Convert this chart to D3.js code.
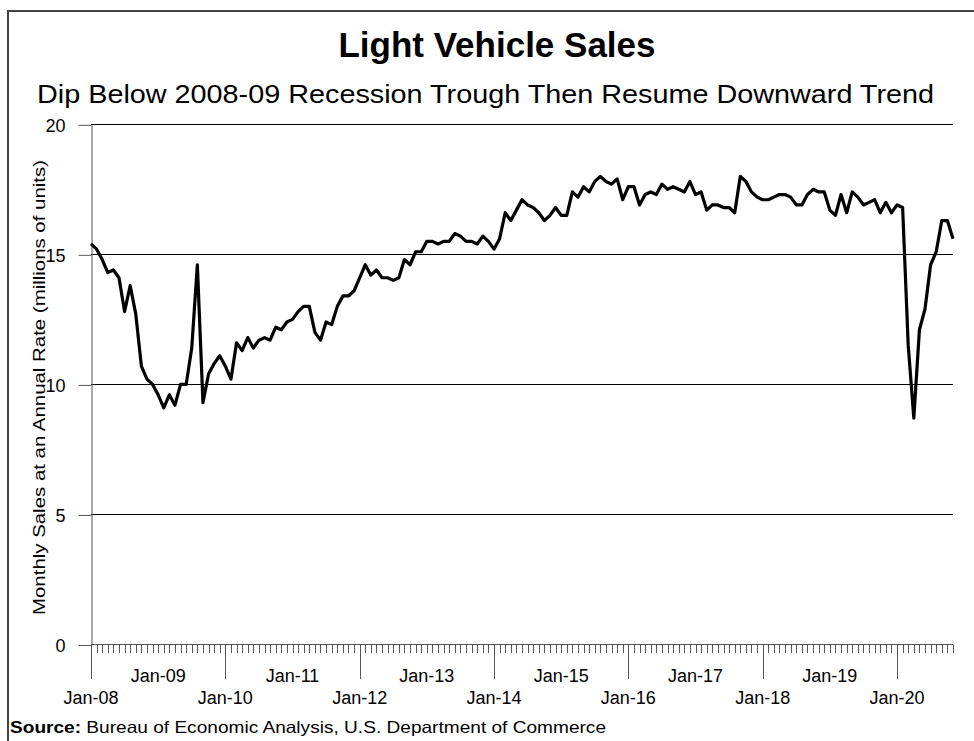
<!DOCTYPE html>
<html lang="en">
<head>
  <meta charset="UTF-8">
  <title>Light Vehicle Sales</title>
  <script src="https://d3js.org/d3.v7.min.js"></script>
  <style>
    body {
      margin: 0;
      background: #ffffff;
      font-family: "Liberation Sans", Arial, sans-serif;
    }

    svg {
      display: block;
    }

    .grid line {
      stroke: #000000;
      stroke-width: 1px;
    }

    .y.axis path,
    .y.axis line,
    .x.axis line {
      stroke: #555555;
      stroke-width: 1px;
    }

    .y.axis text,
    .x.axis text {
      font-size: 18px;
      fill: #000000;
    }

    path.sales {
      fill: none;
      stroke: #000000;
      stroke-width: 3.2px;
      stroke-linejoin: round;
    }
  </style>
</head>

<body>
  <div id="chart"></div>
  <script>
    // monthly light vehicle sales, SAAR millions, Jan-08 .. Nov-20
    const months = d3.timeMonth.range(new Date(2008, 0, 1), new Date(2020, 11, 1));

    const sales = [
      15.4, 15.2, 14.8, 14.3, 14.4, 14.1, 12.8, 13.8, 12.7, 10.7, 10.2, 10.0,  // 2008
      9.6, 9.1, 9.6, 9.2, 10.0, 10.0, 11.4, 14.6, 9.3, 10.4, 10.8, 11.1,       // 2009
      10.7, 10.2, 11.6, 11.3, 11.8, 11.4, 11.7, 11.8, 11.7, 12.2, 12.1, 12.4,  // 2010
      12.5, 12.8, 13.0, 13.0, 12.0, 11.7, 12.4, 12.3, 13.0, 13.4, 13.4, 13.6,  // 2011
      14.1, 14.6, 14.2, 14.4, 14.1, 14.1, 14.0, 14.1, 14.8, 14.6, 15.1, 15.1,  // 2012
      15.5, 15.5, 15.4, 15.5, 15.5, 15.8, 15.7, 15.5, 15.5, 15.4, 15.7, 15.5,  // 2013
      15.2, 15.6, 16.6, 16.3, 16.7, 17.1, 16.9, 16.8, 16.6, 16.3, 16.5, 16.8,  // 2014
      16.5, 16.5, 17.4, 17.2, 17.6, 17.4, 17.8, 18.0, 17.8, 17.7, 17.9, 17.1,  // 2015
      17.6, 17.6, 16.9, 17.3, 17.4, 17.3, 17.7, 17.5, 17.6, 17.5, 17.4, 17.8,  // 2016
      17.3, 17.4, 16.7, 16.9, 16.9, 16.8, 16.8, 16.6, 18.0, 17.8, 17.4, 17.2,  // 2017
      17.1, 17.1, 17.2, 17.3, 17.3, 17.2, 16.9, 16.9, 17.3, 17.5, 17.4, 17.4,  // 2018
      16.7, 16.5, 17.3, 16.6, 17.4, 17.2, 16.9, 17.0, 17.1, 16.6, 17.0, 16.6,  // 2019
      16.9, 16.8, 11.5, 8.7, 12.1, 12.9, 14.6, 15.1, 16.3, 16.3, 15.6          // 2020
    ];

    const yTicks = [0, 5, 10, 15, 20];
    const upperLabels = ["Jan-09", "Jan-11", "Jan-13", "Jan-15", "Jan-17", "Jan-19"];
    const lowerLabels = ["Jan-08", "Jan-10", "Jan-12", "Jan-14", "Jan-16", "Jan-18", "Jan-20"];

    const width = 974,
          height = 741;

    const fmt = d3.timeFormat("%b-%y");
    const keys = months.map(fmt);
    const data = keys.map((k, i) => ({ key: k, value: sales[i] }));

    const svg = d3.select("#chart")
      .append("svg")
      .attr("width", width)
      .attr("height", height);

    // frame
    svg.append("rect")
      .attr("x", 8)
      .attr("y", 11)
      .attr("width", 990)
      .attr("height", 760)
      .attr("fill", "none")
      .attr("stroke", "#444444")
      .attr("stroke-width", 2);

    let x = d3.scalePoint()
      .domain(keys)
      .range([91, 953]);

    let y = d3.scaleLinear()
      .domain([0, 20])
      .range([644.5, 124.3]);

    // gridlines
    svg.append("g")
      .attr("class", "grid")
      .selectAll("line")
      .data(yTicks.filter(d => d > 0))
      .enter().append("line")
      .attr("x1", 91)
      .attr("x2", 953)
      .attr("y1", d => Math.round(y(d)) + 0.5)
      .attr("y2", d => Math.round(y(d)) + 0.5);

    // y axis
    let yAxis = svg.append("g")
      .attr("class", "y axis")
      .attr("transform", "translate(91.5,0.5)")
      .call(d3.axisLeft(y).tickValues(yTicks).tickSize(13).tickSizeOuter(0).tickPadding(13));

    yAxis.selectAll("text")
      .attr("dy", "0.38em");

    yAxis.select(".domain").attr("stroke", "#555555");

    // x axis: monthly minor ticks, biennial major ticks
    let xAxis = svg.append("g")
      .attr("class", "x axis");

    xAxis.append("line")
      .attr("x1", 91)
      .attr("x2", 953)
      .attr("y1", 644.5)
      .attr("y2", 644.5);

    xAxis.selectAll("line.tick")
      .data(keys)
      .enter().append("line")
      .attr("class", "tick")
      .attr("x1", d => Math.round(x(d)) + 0.5)
      .attr("x2", d => Math.round(x(d)) + 0.5)
      .attr("y1", 644.5)
      .attr("y2", d => lowerLabels.includes(d) ? 679 : 653);

    xAxis.selectAll("text.upper")
      .data(upperLabels)
      .enter().append("text")
      .attr("class", "upper")
      .attr("x", d => x(d))
      .attr("y", 681.5)
      .attr("text-anchor", "middle")
      .text(d => d);

    xAxis.selectAll("text.lower")
      .data(lowerLabels)
      .enter().append("text")
      .attr("class", "lower")
      .attr("x", d => x(d))
      .attr("y", 704)
      .attr("text-anchor", "middle")
      .text(d => d);

    // series
    let line = d3.line()
      .x(d => x(d.key))
      .y(d => y(d.value));

    svg.append("path")
      .datum(data)
      .attr("class", "sales")
      .attr("d", line);

    // titles
    svg.append("text")
      .attr("x", 497)
      .attr("y", 57)
      .attr("text-anchor", "middle")
      .style("font-size", "35px")
      .style("font-weight", "bold")
      .text("Light Vehicle Sales");

    svg.append("text")
      .attr("x", 37)
      .attr("y", 103)
      .attr("textLength", 897)
      .attr("lengthAdjust", "spacingAndGlyphs")
      .style("font-size", "26px")
      .text("Dip Below 2008-09 Recession Trough Then Resume Downward Trend");

    svg.append("text")
      .attr("transform", "translate(45,615) rotate(-90)")
      .attr("textLength", 455)
      .attr("lengthAdjust", "spacingAndGlyphs")
      .style("font-size", "16.5px")
      .text("Monthly Sales at an Annual Rate (millions of units)");

    let source = svg.append("text")
      .attr("x", 10)
      .attr("y", 733)
      .attr("textLength", 596)
      .attr("lengthAdjust", "spacingAndGlyphs")
      .style("font-size", "16.5px");

    source.append("tspan")
      .style("font-weight", "bold")
      .text("Source:");

    source.append("tspan")
      .text(" Bureau of Economic Analysis, U.S. Department of Commerce");
  </script>
</body>
</html>
